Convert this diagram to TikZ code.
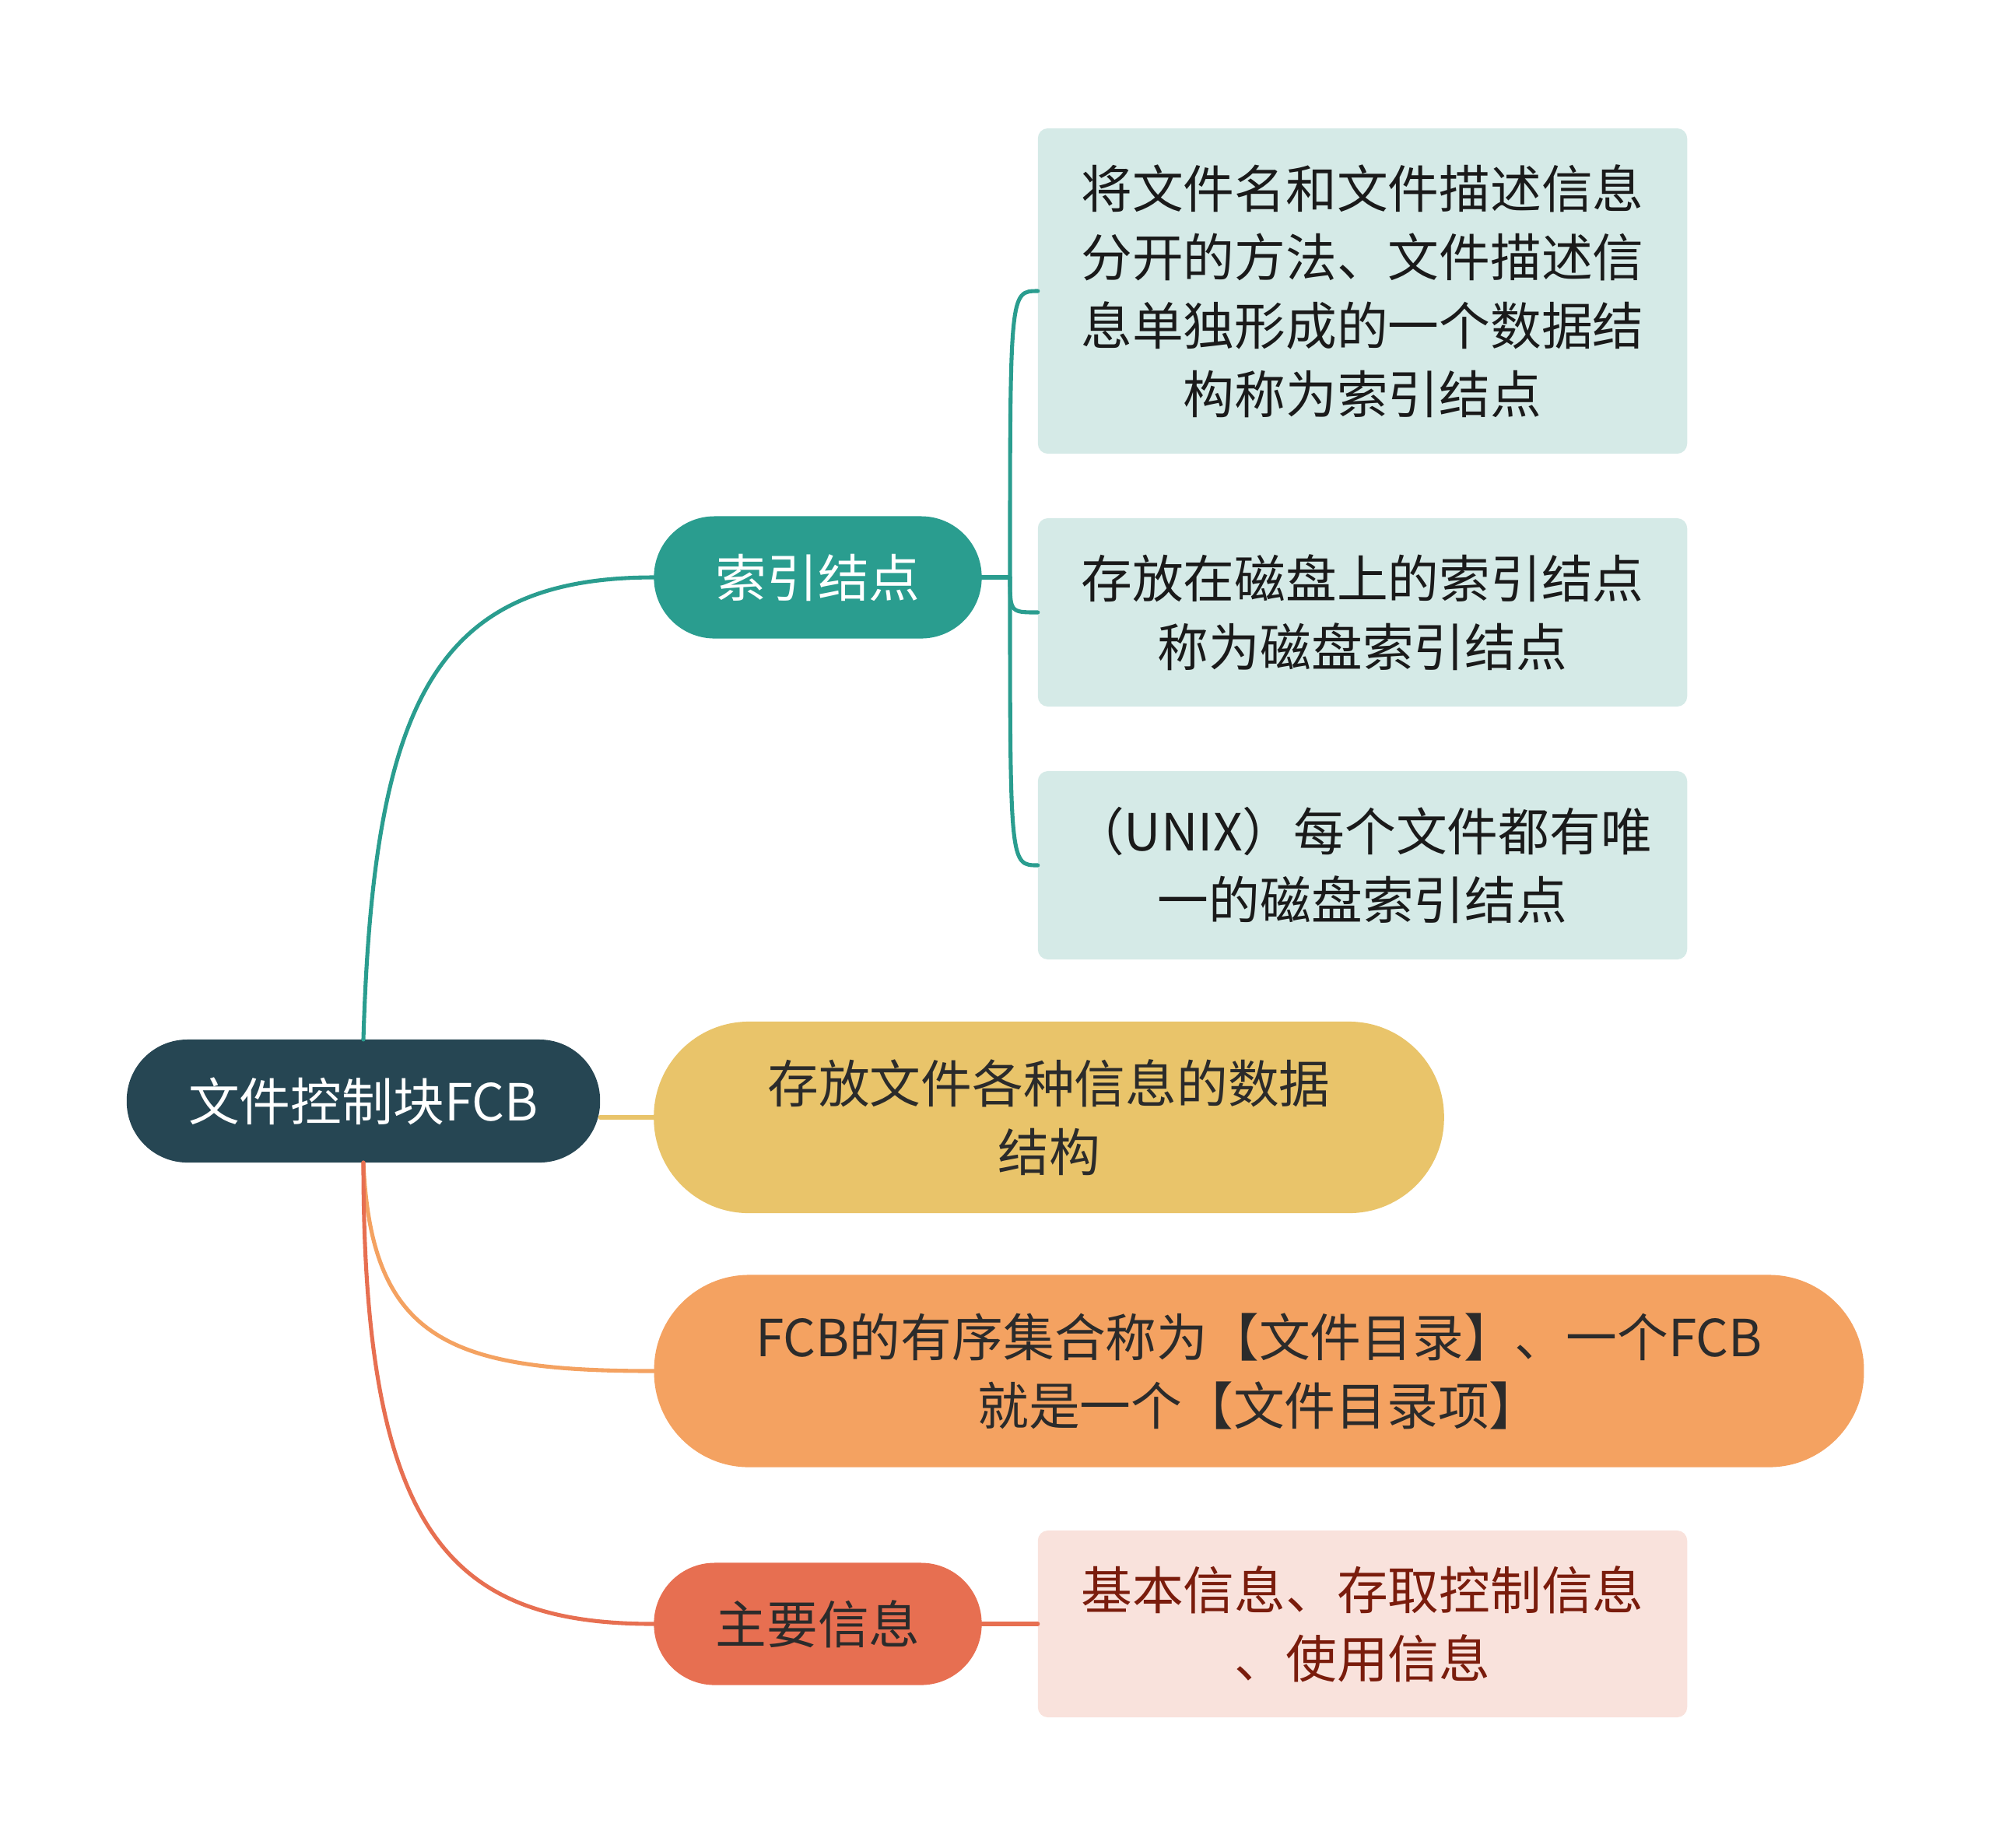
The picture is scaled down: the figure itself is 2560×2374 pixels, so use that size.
\documentclass[tikz,border=0pt]{standalone}
\usepackage{fontspec}
\setmainfont{Noto Sans CJK SC}
\definecolor{MapRoot}{HTML}{264653}
\definecolor{MapTeal}{HTML}{2A9D8F}
\definecolor{MapTealPale}{HTML}{D5EAE7}
\definecolor{MapSand}{HTML}{E9C46A}
\definecolor{MapOrange}{HTML}{F4A261}
\definecolor{MapCoral}{HTML}{E76F51}
\definecolor{MapCoralPale}{HTML}{F9E2DC}
\definecolor{MapText}{HTML}{2B2B2B}
\definecolor{MapLeafText}{HTML}{1A1A1A}
\definecolor{MapMaroon}{HTML}{7A1C0C}
\tikzset{
    fcb/map/.style={
        font=\fontsize{18.7}{25}\selectfont,
        line cap=round,
        line join=round,
        every node/.style={inner sep=0pt, outer sep=0pt, align=center}
    },
    fcb/pill/.style={rectangle, rounded corners=#1},
    fcb/pill/.default=0.78cm,
    fcb/leaf/.style={rectangle, rounded corners=0.13cm, fill=MapTealPale,
        text=MapLeafText, minimum width=8.34cm},
    fcb/branch/.style={draw=#1, line width=1.45pt}
}
\begin{document}
\begin{tikzpicture}[fcb/map, x=0.01cm, y=-0.01cm]
    \useasboundingbox (0,0) rectangle (2560,2374);

    \node[fcb/pill, fill=MapRoot, text=white, minimum width=6.08cm,
          minimum height=1.58cm] (root) at (467,1415) {文件控制块FCB};

    \node[fcb/pill, fill=MapTeal, text=white, minimum width=4.21cm,
          minimum height=1.57cm] (idx) at (1051,742) {索引结点};
    \node[fcb/leaf, minimum height=4.18cm] (idxa) at (1751,374)
        {将文件名和文件描述信息\\分开的方法、文件描述信\\息单独形成的一个数据结\\构称为索引结点};
    \node[fcb/leaf, minimum height=2.42cm] (idxb) at (1751,787)
        {存放在磁盘上的索引结点\\称为磁盘索引结点};
    \node[fcb/leaf, minimum height=2.42cm] (idxc) at (1751,1112)
        {（UNIX）每个文件都有唯\\一的磁盘索引结点};

    \node[fcb/pill=1.22cm, fill=MapSand, text=MapText, minimum width=10.15cm,
          minimum height=2.46cm] (data) at (1348,1436)
        {存放文件各种信息的数据\\结构};

    \node[fcb/pill=1.22cm, fill=MapOrange, text=MapText, minimum width=15.54cm,
          minimum height=2.47cm] (dir) at (1618,1762)
        {FCB的有序集合称为【文件目录】、一个FCB\\就是一个【文件目录项】};

    \node[fcb/pill, fill=MapCoral, text=MapText, minimum width=4.21cm,
          minimum height=1.57cm] (info) at (1051,2087) {主要信息};
    \node[fcb/leaf, fill=MapCoralPale, text=MapMaroon, minimum height=2.40cm]
        (infoa) at (1751,2087) {基本信息、存取控制信息\\、使用信息};

    \coordinate (split) at (1298,742);
    \draw[fcb/branch=MapTeal] (root.north) .. controls +(13,-436) and +(-281,0) .. (idx.west);
    \draw[fcb/branch=MapTeal] (idx.east) -- (split);
    \foreach \leaf in {idxa,idxb,idxc}
        \draw[fcb/branch=MapTeal] (split)
            .. controls (split |- \leaf.west) and (split |- \leaf.west) .. (\leaf.west);

    \draw[fcb/branch=MapSand] (root.east |- data.west) -- (data.west);
    \draw[fcb/branch=MapOrange] (root.south) .. controls +(10,230) and +(-260,0) .. (dir.west);
    \draw[fcb/branch=MapCoral] (root.south) .. controls +(0,480) and +(-260,0) .. (info.west);
    \draw[fcb/branch=MapCoral] (info.east) -- (infoa.west);
\end{tikzpicture}
\end{document}
